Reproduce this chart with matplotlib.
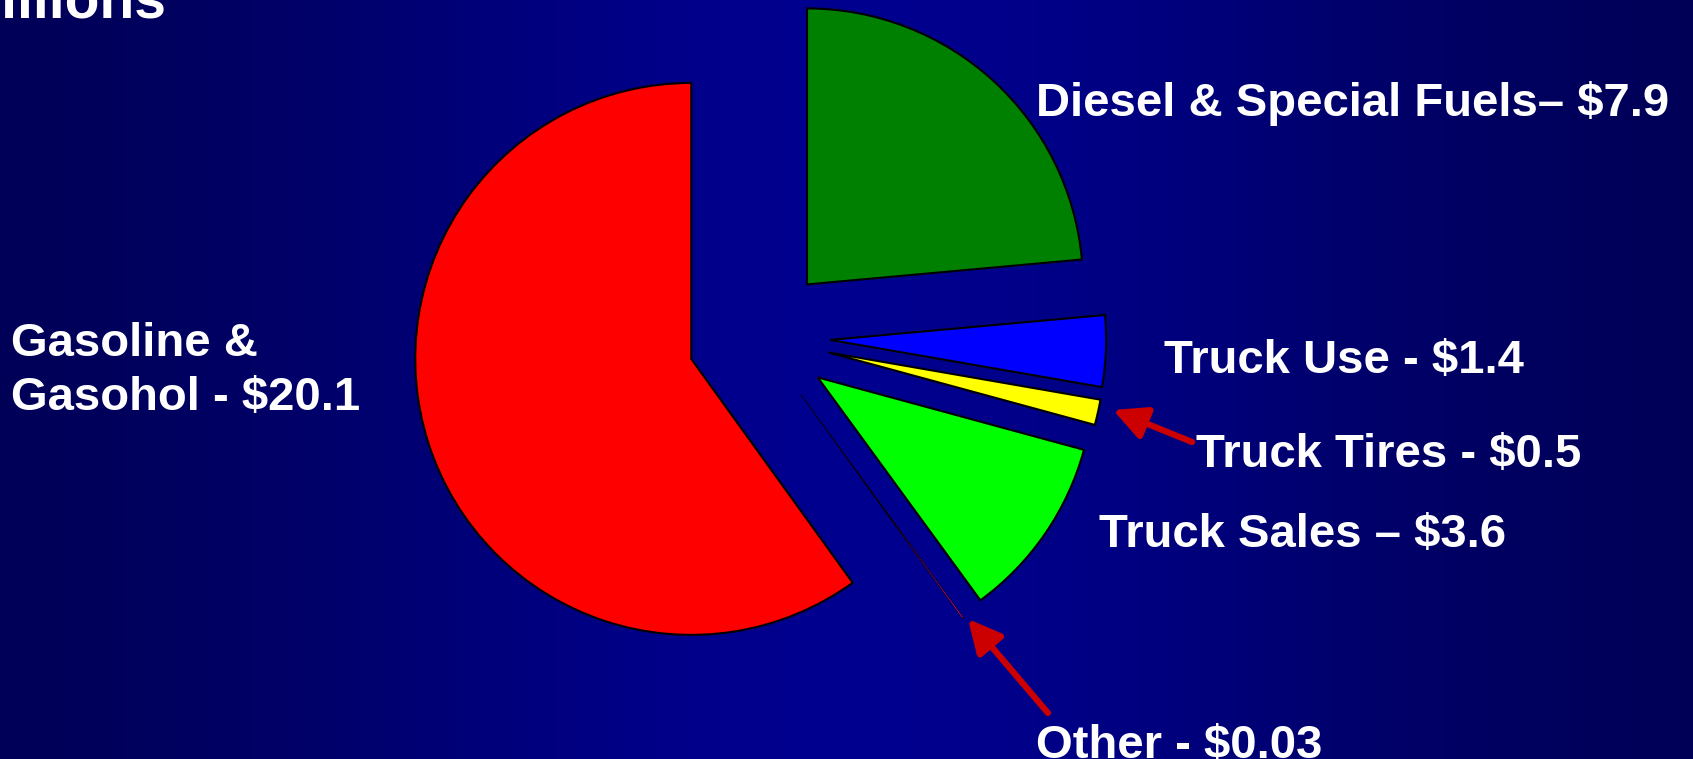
import numpy as np
import matplotlib
matplotlib.use("Agg")
import matplotlib.pyplot as plt

# Highway tax revenue by source, $ billions
labels = ["Gasoline &\nGasohol - $20.1", "Other - $0.03", "Truck Sales \u2013 $3.6",
          "Truck Tires - $0.5", "Truck Use - $1.4", "Diesel & Special Fuels\u2013 $7.9"]
values = [20.1, 0.03, 3.6, 0.5, 1.4, 7.9]
colors = ["#ff0000", "#ff00ff", "#00ff00", "#ffff00", "#0000ff", "#008000"]

W, H = 1693, 759
R = 276
plt.rcParams["font.family"] = ["Liberation Sans", "DejaVu Sans"]

fig = plt.figure(figsize=(W / 100, H / 100), dpi=100)
ax = fig.add_axes([0, 0, 1, 1])

# background: dark navy, brighter toward the middle
xs = np.linspace(0, 1, 400)
shade = 0.32 + 0.24 * np.exp(-((xs - 0.5) / 0.33) ** 2)
grad = np.zeros((2, len(xs), 3))
grad[..., 2] = shade
ax.imshow(grad, extent=[0, W, 0, H], aspect="auto", zorder=0)

# explode is in data units here, so scale by the radius
wedges, _ = ax.pie(values, colors=colors, startangle=90, counterclock=True,
                   explode=[0.258 * R] * len(values), center=(759, H - 337), radius=R,
                   wedgeprops=dict(edgecolor="black", linewidth=1.5), frame=False)
# thin outline on the sliver so the magenta still shows
wedges[1].set_linewidth(0.6)

ax.set_xlim(0, W)
ax.set_ylim(0, H)
ax.set_aspect("auto")
ax.axis("off")

txt = dict(color="white", fontsize=34, fontweight="bold")
ax.text(11, H - 371, labels[0], va="center", ha="left", linespacing=1.3, **txt)
ax.text(1036, H - 758, labels[1], va="baseline", **txt)
ax.text(1099, H - 547, labels[2], va="baseline", **txt)
ax.text(1196, H - 467, labels[3], va="baseline", **txt)
ax.text(1164, H - 373, labels[4], va="baseline", **txt)
ax.text(1036, H - 116, labels[5], va="baseline", **txt)

# title, mostly off the top edge
ax.text(166, H - 17, "Billions", ha="right", va="baseline", color="white",
        fontsize=41, fontweight="bold")

arrow = dict(arrowstyle="-|>", color="#cc0000", lw=4.5, mutation_scale=50,
             shrinkA=0, shrinkB=0)
ax.annotate("", xy=(1113, H - 410), xytext=(1192, H - 442), arrowprops=arrow)
ax.annotate("", xy=(968, H - 619), xytext=(1048, H - 713), arrowprops=arrow)

fig.savefig("out.png", dpi=100)
